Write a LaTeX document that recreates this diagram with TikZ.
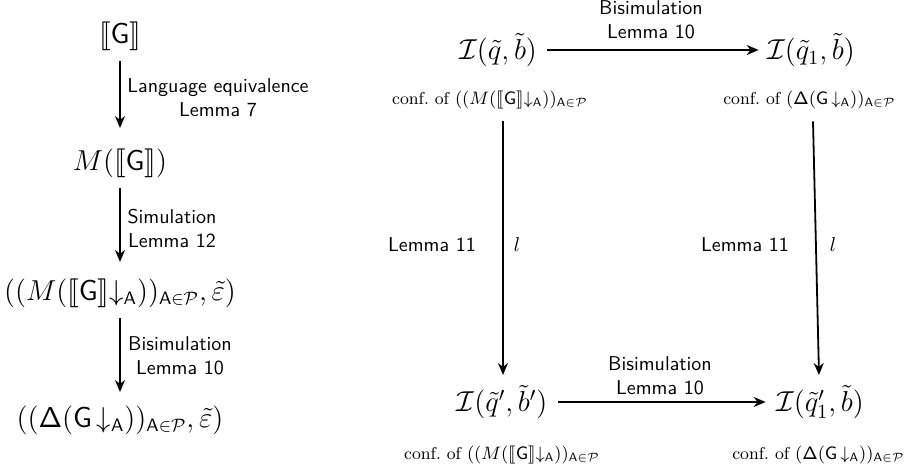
\documentclass[tikz,border=0pt]{standalone}
\usepackage{amsmath,amssymb}
\usepackage{stmaryrd}
\usetikzlibrary{arrows.meta}
\newcommand{\sem}[1]{\llbracket #1\rrbracket}
\newcommand{\rst}{{\downarrow_{\mathsf{A}}}}
\newcommand{\sDelta}{\mathsf{\Delta}}
\begin{document}
\begin{tikzpicture}[x=0.5pt,y=-0.5pt,
  arr/.style={-{Stealth[length=6pt,width=5pt]},line width=0.9pt},
  lab/.style={font=\sffamily,align=center,inner sep=1pt},
  lmath/.style={font=\fontsize{13.4}{16}\selectfont,inner sep=2pt},
  rmath/.style={font=\Large,inner sep=2pt},
  conf/.style={font=\fontsize{8.6}{10}\selectfont,inner sep=1pt}]
\useasboundingbox (0,0) rectangle (910,466);
% left column
\node[lmath] (g) at (120,36) {$\sem{\mathsf{G}}$};
\node[lmath] (mg) at (120,163) {$M(\sem{\mathsf{G}})$};
\node[lmath] (mga) at (120,293) {$((M(\sem{\mathsf{G}}\rst))_{\mathsf{A}\in\mathcal{P}},\tilde{\varepsilon})$};
\node[lmath] (dga) at (120,420) {$((\sDelta(\mathsf{G}\,\rst))_{\mathsf{A}\in\mathcal{P}},\tilde{\varepsilon})$};
\node[lab] (l1) at (218,98) {Language equivalence\\Lemma 7};
\node[lab] (l2) at (172,228) {Simulation\\Lemma 12};
\node[lab] (l3) at (180,356) {Bisimulation\\Lemma 10};
\draw[arr] (g.south) ++(0,6) coordinate (c1) -- (c1 |- 0,128);
\draw[arr] (mg.south) ++(0,6) coordinate (c2) -- (c2 |- 0,262);
\draw[arr] (mga.south) ++(0,6) coordinate (c3) -- (c3 |- 0,392);
% right square
\node[rmath] (i1) at (498,50) {$\mathcal{I}(\tilde{q},\tilde{b})$};
\node[rmath] (i2) at (811,50) {$\mathcal{I}(\tilde{q}_1,\tilde{b})$};
\node[rmath] (i3) at (502,402) {$\mathcal{I}(\tilde{q}',\tilde{b}')$};
\node[rmath] (i4) at (820,402) {$\mathcal{I}(\tilde{q}_1',\tilde{b})$};
\node[conf] (c1n) at (490,100) {conf.\ of $((M(\sem{\mathsf{G}}\rst))_{\mathsf{A}\in\mathcal{P}}$};
\node[conf,anchor=east] (c2n) at (898,100) {conf.\ of $(\sDelta(\mathsf{G}\,\rst))_{\mathsf{A}\in\mathcal{P}}$};
\node[conf] (c3n) at (502,455) {conf.\ of $((M(\sem{\mathsf{G}}\rst))_{\mathsf{A}\in\mathcal{P}}$};
\node[conf,anchor=east] (c4n) at (907,455) {conf.\ of $(\sDelta(\mathsf{G}\,\rst))_{\mathsf{A}\in\mathcal{P}}$};
\draw[arr,shorten <=3pt,shorten >=2pt] (i1.east) -- (i2.west);
\draw[arr,shorten <=3pt,shorten >=3pt] (i3.east) -- (i4.west);
\node[lab] (t1) at (651,20) {Bisimulation\\Lemma 10};
\node[lab] (t2) at (660,376) {Bisimulation\\Lemma 10};
\draw[arr] (i1.south -| 503,0) ++(0,50) coordinate (v1s) -- (503,375) coordinate (v1e);
\draw[arr] (i2.south) ++(2,50) coordinate (v2s) -- (819,375) coordinate (v2e);
\node[lab] (m1) at (432,245) {Lemma 11};
\node[lab] (m2) at (745,245) {Lemma 11};
\node (e1) at (517,245) {$l$};
\node (e2) at (833,245) {$l$};
\end{tikzpicture}
\end{document}
